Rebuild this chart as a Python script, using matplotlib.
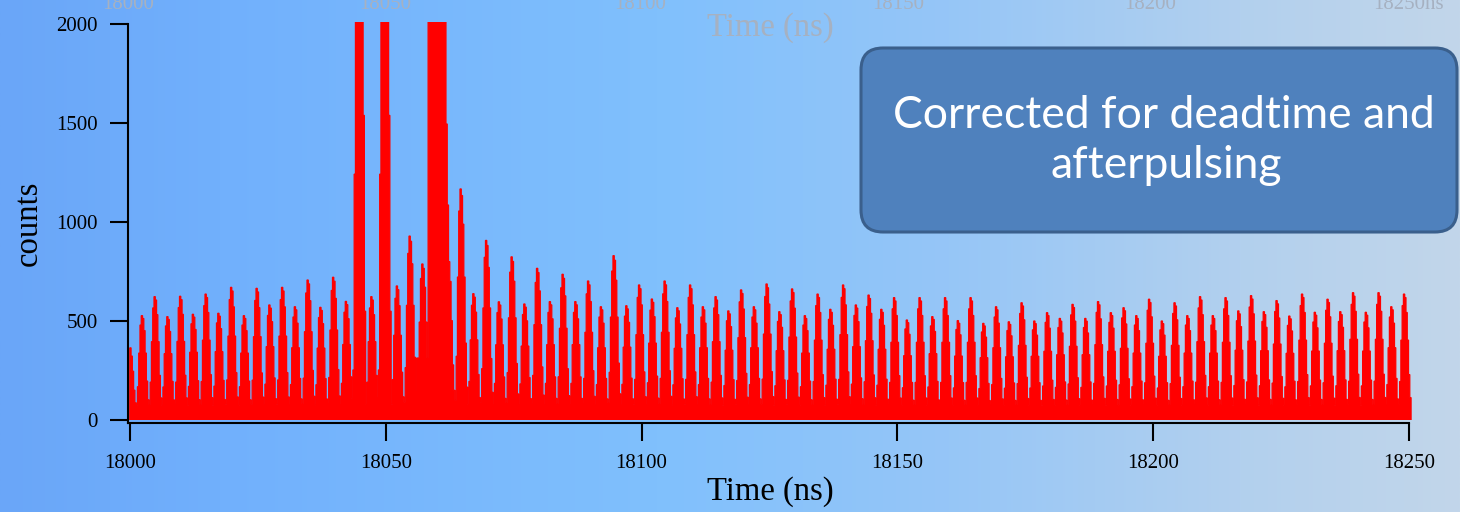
import numpy as np
import matplotlib
matplotlib.use("Agg")
import matplotlib.pyplot as plt
from matplotlib.patches import FancyBboxPatch
from matplotlib.transforms import Affine2D

# ---- histogram data: one optical pulse per laser period ----
period_ns = 2.492
first_peak_ns = 17999.958
floor_counts = 55

# peak height (counts) of each pulse, from the first one at the left edge
peak_counts = [
    374, 527, 623, 522, 625, 534, 636, 539, 670, 527,
    665, 581, 670, 572, 707, 569, 721, 599, 5000, 623,
    5000, 677, 929, 788, 2600, 800, 1167, 638, 907, 597,
    824, 586, 766, 598, 736, 598, 702, 572, 830, 577,
    682, 611, 702, 567, 682, 572, 623, 551, 657, 572,
    687, 547, 662, 527, 636, 559, 682, 581, 631, 559,
    618, 505, 618, 522, 618, 502, 618, 488, 572, 496,
    592, 500, 542, 513, 584, 513, 598, 542, 567, 527,
    610, 500, 592, 527, 623, 527, 618, 551, 628, 547,
    603, 525, 636, 544, 610, 547, 643, 544, 643, 572,
    636,
]

# relative pulse profile across the ten bins of one period
pulse_shape = [0.04, 0.24, 0.6, 0.9, 1.0, 0.97, 0.84, 0.6, 0.3, 0.1]

# saturated burst near 18058-18062 ns (counts per bin, same binning)
burst_start_ns = 18056.03
burst_counts = ([313] * 9 + [2600]
                + [2600] * 10
                + [2600, 2600, 2600, 1495, 1086, 800, 700, 450, 250, 150])

x_ticks = [18000, 18050, 18100, 18150, 18200, 18250]
y_ticks = [0, 500, 1000, 1500, 2000]
ghost_ticks = ["18000", "18050", "18100", "18150", "18200", "18250ns"]

# ---- build the binned histogram ----
nbin = len(pulse_shape)
width = period_ns / nbin
peaks = np.asarray(peak_counts, dtype=float)
shape = np.asarray(pulse_shape)
values = (floor_counts + (peaks[:, None] - floor_counts) * shape[None, :]).ravel()
edges = first_peak_ns - period_ns / 2 + np.arange(values.size + 1) * width

j0 = int(round((burst_start_ns - edges[0]) / width))
burst = np.asarray(burst_counts, dtype=float)
values[j0:j0 + burst.size] = np.maximum(values[j0:j0 + burst.size], burst)

keep = edges[:-1] >= 17999.8
values = values[keep]
edges = edges[np.r_[keep, True]]

# ---- figure ----
W, H = 1460, 512
fig = plt.figure(figsize=(W / 100, H / 100), dpi=100)
px = Affine2D().scale(1 / W, 1 / H) + fig.transFigure

# slide background: horizontal blue gradient
bg = fig.add_axes([0, 0, 1, 1])
bg.set_zorder(-5)
stops = np.array([0.0, 0.15, 0.45, 0.65, 0.85, 1.0])
cols = np.array([
    [106, 166, 248],
    [113, 176, 252],
    [128, 192, 253],
    [150, 198, 247],
    [178, 208, 238],
    [194, 214, 234],
]) / 255.0
xs = np.linspace(0, 1, 600)
grad = np.stack([np.interp(xs, stops, cols[:, c]) for c in range(3)], axis=-1)
bg.imshow(grad[None, :, :], aspect="auto", extent=[0, 1, 0, 1])
bg.set_axis_off()

serif = ["Liberation Serif", "DejaVu Serif"]

# faint axis labels of a previous plot showing through at the top
ghost_col = "#a6b1c1"
for lab, xp in zip(ghost_ticks, [128, 385, 640, 898, 1150, 1408]):
    fig.text(xp / W, 1 - 9 / H, lab, ha="center", va="baseline",
             fontsize=15, family=serif, color=ghost_col)
fig.text(770 / W, 1 - 36 / H, "Time (ns)", ha="center", va="baseline",
         fontsize=23.5, family=serif, color=ghost_col)

# main plot axes
ax = fig.add_axes([128 / W, (H - 423) / H, 1284 / W, 401 / H])
ax.set_facecolor("none")
ax.stairs(values, edges, fill=True, facecolor="#ff0000",
          edgecolor="#ff0000", lw=0.9, baseline=0)

ax.set_xlim(17999.609, 18250.586)
ax.set_ylim(-15.15, 2010.1)
ax.set_xticks(x_ticks)
ax.set_yticks(y_ticks)
ax.set_xticklabels([str(v) for v in x_ticks], family=serif, fontsize=15)
ax.set_yticklabels([str(v) for v in y_ticks], family=serif, fontsize=15)
ax.tick_params(axis="both", direction="out", length=13, width=1.5,
               color="black", labelcolor="black")
ax.tick_params(axis="x", pad=9.5)
ax.tick_params(axis="y", pad=8.6)
for side in ("top", "right"):
    ax.spines[side].set_visible(False)
for side in ("left", "bottom"):
    ax.spines[side].set_linewidth(1.5)
ax.spines["bottom"].set_bounds(17999.609, 18250)
ax.spines["left"].set_bounds(-15.15, 2000)

fig.text(770 / W, 1 - 500 / H, "Time (ns)", ha="center", va="baseline",
         fontsize=23.5, family=serif, color="black")
fig.text(37 / W, 1 - 223 / H, "counts", ha="center", va="baseline",
         rotation=90, rotation_mode="anchor",
         fontsize=23.5, family=serif, color="black")

# call-out box
box = FancyBboxPatch((861, H - 232), 596, 184,
                     boxstyle="round,pad=0,rounding_size=22",
                     transform=px, facecolor="#4f81bd", edgecolor="#3a5f8c",
                     linewidth=2.2, zorder=5)
fig.patches.append(box)
box_font = ["Lato", "DejaVu Sans"]
t1 = fig.text(1164 / W, 1 - 128 / H, "Corrected for deadtime and",
              ha="center", va="baseline", fontsize=28, family=box_font,
              color="white", zorder=6)
t2 = fig.text(1166 / W, 1 - 178 / H, "afterpulsing",
              ha="center", va="baseline", fontsize=28, family=box_font,
              color="white", zorder=6)
fig.canvas.draw()
wt = t1.get_window_extent(fig.canvas.get_renderer()).width
fs = 28 * 542 / wt
t1.set_fontsize(fs)
t2.set_fontsize(fs)

fig.savefig("out.png", dpi=100)
